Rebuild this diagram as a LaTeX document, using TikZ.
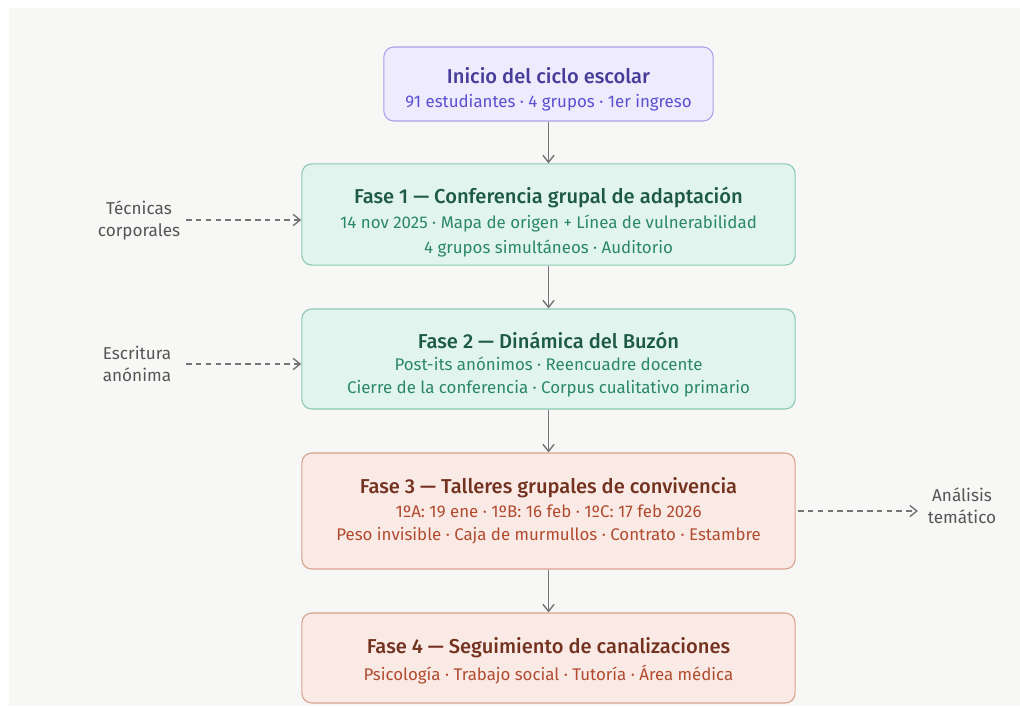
\documentclass[tikz,border=0pt]{standalone}
\usepackage{fontspec}
\setmainfont{Fira Sans}[BoldFont={Fira Sans Medium}]
\usetikzlibrary{positioning,arrows.meta}

\definecolor{bgcol}{HTML}{F7F7F5}
\definecolor{lilafill}{HTML}{EEEBFC}
\definecolor{liladraw}{HTML}{ABA2EA}
\definecolor{lilatitle}{HTML}{473C9A}
\definecolor{lilatext}{HTML}{5B4FD2}
\definecolor{verdefill}{HTML}{E2F4EE}
\definecolor{verdedraw}{HTML}{8CCAB4}
\definecolor{verdetitle}{HTML}{1C5A46}
\definecolor{verdetext}{HTML}{2A8767}
\definecolor{rojofill}{HTML}{FAEAE5}
\definecolor{rojodraw}{HTML}{D9A18F}
\definecolor{rojotitle}{HTML}{73311F}
\definecolor{rojotext}{HTML}{B14B2F}
\definecolor{flecha}{HTML}{757575}
\definecolor{notacol}{HTML}{555555}

\newcommand{\titfont}{\fontsize{14.3}{17}\selectfont\bfseries}
\newcommand{\subfont}{\fontsize{12}{17}\selectfont}
% strut that pushes a text block down by #1 px
\newcommand{\bajo}[1]{\rule{0pt}{\dimexpr 11.3pt+1.42pt*#1\relax}}

\begin{document}
\begin{tikzpicture}[
  x=0.025cm, y=-0.025cm,
  >={Straight Barb[length=5pt,width=8pt]},
  fase/.style={rounded corners=0.25cm, line width=0.8pt, align=center,
    minimum width=12.33cm, inner sep=0pt},
  flujo/.style={->, draw=flecha, line width=1pt},
  lateral/.style={->, draw=flecha, line width=1pt, dash pattern=on 4pt off 3pt},
  nota/.style={text=notacol, align=center, font=\fontsize{12.2}{15.6}\selectfont}
]

% -----------------------
% Canvas
% -----------------------
\useasboundingbox (0,0) rectangle (1020,706);
\fill[bgcol] (9,8) rectangle (1020,706);

\def\xc{548.5}

% -----------------------
% Main column
% -----------------------
\node[fase, fill=lilafill, draw=liladraw, minimum width=8.23cm, minimum height=1.85cm]
  (inicio) at (\xc,84)
  {{\titfont\color{lilatitle}\bajo{5}Inicio del ciclo escolar}\\[5pt]
   {\subfont\color{lilatext}91 estudiantes · 4 grupos · 1er ingreso}};

\node[fase, fill=verdefill, draw=verdedraw, minimum height=2.53cm]
  (f1) at (\xc,214.5)
  {{\titfont\color{verdetitle}\bajo{8}Fase 1 — Conferencia grupal de adaptación}\\[4pt]
   {\subfont\color{verdetext}14 nov 2025 · Mapa de origen + Línea de vulnerabilidad}\\[4.5pt]
   {\subfont\color{verdetext}4 grupos simultáneos · Auditorio}};

\node[fase, fill=verdefill, draw=verdedraw, minimum height=2.5cm]
  (f2) at (\xc,359)
  {{\titfont\color{verdetitle}\bajo{6}Fase 2 — Dinámica del Buzón}\\[4pt]
   {\subfont\color{verdetext}Post-its anónimos · Reencuadre docente}\\[4.5pt]
   {\subfont\color{verdetext}Cierre de la conferencia · Corpus cualitativo primario}};

\node[fase, fill=rojofill, draw=rojodraw, minimum height=2.9cm]
  (f3) at (\xc,511)
  {{\titfont\color{rojotitle}Fase 3 — Talleres grupales de convivencia}\\[4pt]
   {\subfont\color{rojotext}1ºA: 19 ene · 1ºB: 16 feb · 1ºC: 17 feb 2026}\\[4.5pt]
   {\subfont\color{rojotext}Peso invisible · Caja de murmullos · Contrato · Estambre}};

\node[fase, fill=rojofill, draw=rojodraw, minimum height=2.25cm]
  (f4) at (\xc,658)
  {{\titfont\color{rojotitle}\bajo{3}Fase 4 — Seguimiento de canalizaciones}\\[4pt]
   {\subfont\color{rojotext}Psicología · Trabajo social · Tutoría · Área médica}};

\draw[flujo] (inicio) -- (f1);
\draw[flujo] (f1) -- (f2);
\draw[flujo] (f2) -- (f3);
\draw[flujo] (f3) -- (f4);

% -----------------------
% Side notes
% -----------------------
\node[nota] (tec) at (139,220) {Técnicas\\corporales};
\node[nota] (esc) at (137,364) {Escritura\\anónima};
\node[nota] (ana) at (962,506) {Análisis\\temático};

\coordinate (tecA) at (186,220);
\coordinate (escA) at (186,364);
\coordinate (anaA) at (798,511);
\coordinate (anaB) at (918,511);

\draw[lateral] (tecA) -- (tecA -| f1.west);
\draw[lateral] (escA) -- (escA -| f2.west);
\draw[lateral] (anaA) -- (anaB);

\end{tikzpicture}
\end{document}
